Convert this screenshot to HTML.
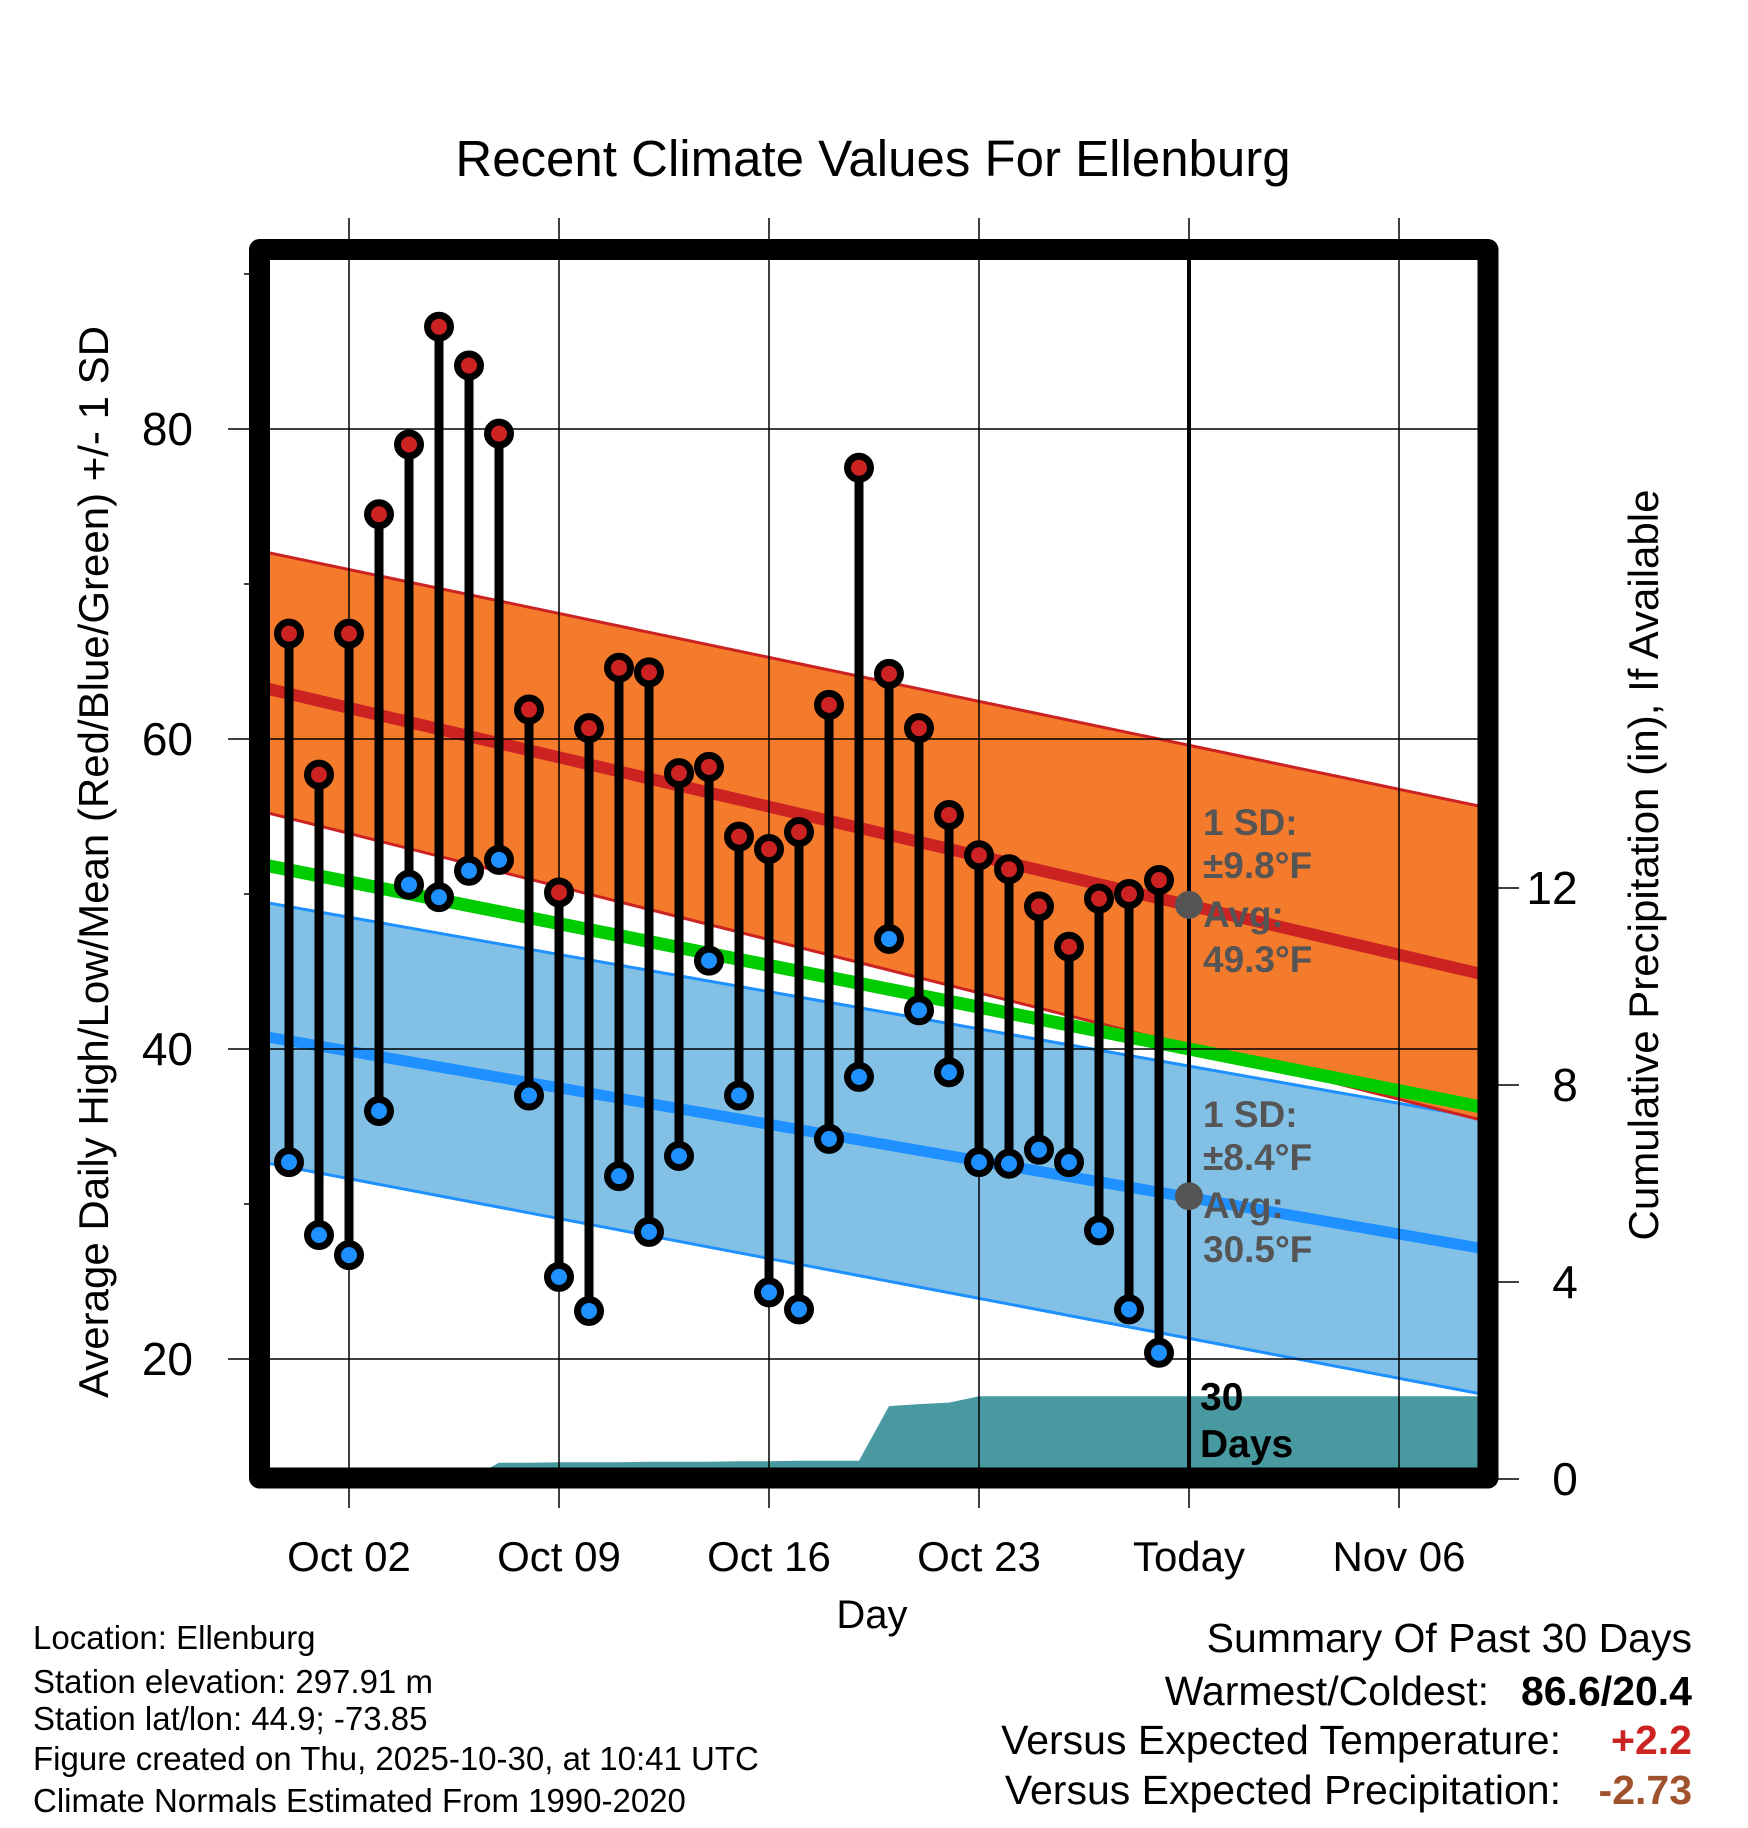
<!DOCTYPE html>
<html><head><meta charset="utf-8"><style>
html,body{margin:0;padding:0;background:#fff;}
svg{display:block;font-family:"Liberation Sans",Arial,sans-serif;}
</style></head><body>
<svg id="chart" width="1748" height="1828" viewBox="0 0 1748 1828" xmlns="http://www.w3.org/2000/svg">
<defs><clipPath id="plotclip"><rect x="270" y="260" width="1208" height="1208"/></clipPath></defs>
<text x="873" y="176" font-size="51" text-anchor="middle">Recent Climate Values For Ellenburg</text>
<g id="bands" clip-path="url(#plotclip)"></g>
<g id="grid"></g>
<g id="marks" clip-path="url(#plotclip)"></g>
<rect x="259.5" y="249.5" width="1228.5" height="1228.5" fill="none" stroke="#000" stroke-width="21" stroke-linejoin="round"/>
<g id="axes"></g>
<text transform="translate(108,862) rotate(-90)" font-size="42" text-anchor="middle">Average Daily High/Low/Mean (Red/Blue/Green) +/- 1 SD</text>
<text transform="translate(1658,865) rotate(-90)" font-size="42" text-anchor="middle">Cumulative Precipitation (in), If Available</text>
<text x="872" y="1628" font-size="40" text-anchor="middle">Day</text>
<g font-size="37" font-weight="bold" fill="#555">
<text x="1203" y="835">1 SD:</text><text x="1203" y="878">±9.8°F</text><text x="1203" y="927">Avg:</text><text x="1203" y="972">49.3°F</text></g>
<g font-size="37" font-weight="bold" fill="#555">
<text x="1203" y="1127">1 SD:</text><text x="1203" y="1170">±8.4°F</text><text x="1203" y="1218">Avg:</text><text x="1203" y="1262">30.5°F</text></g>
<g font-size="39" font-weight="bold" fill="#000">
<text x="1200" y="1410">30</text><text x="1200" y="1457">Days</text></g>
<g font-size="33" fill="#000">
<text x="33" y="1649">Location: Ellenburg</text>
<text x="33" y="1693">Station elevation: 297.91 m</text>
<text x="33" y="1730">Station lat/lon: 44.9; -73.85</text>
<text x="33" y="1770">Figure created on Thu, 2025-10-30, at 10:41 UTC</text>
<text x="33" y="1812">Climate Normals Estimated From 1990-2020</text></g>
<g font-size="41" text-anchor="end">
<text x="1692" y="1652">Summary Of Past 30 Days</text>
<text x="1489" y="1705">Warmest/Coldest:</text>
<text x="1692" y="1705" font-weight="bold">86.6/20.4</text>
<text x="1561" y="1754">Versus Expected Temperature:</text>
<text x="1692" y="1754" font-weight="bold" fill="#cc2222">+2.2</text>
<text x="1561" y="1804">Versus Expected Precipitation:</text>
<text x="1692" y="1804" font-weight="bold" fill="#a0522d">-2.73</text></g>
</svg>
<script>
// day index: 0 = Oct 0 (Sep 30 = 0, Oct 1 = 1 ...)
const days = [0,1,2,3,4,5,6,7,8,9,10,11,12,13,14,15,16,17,18,19,20,21,22,23,24,25,26,27,28,29];
const highs = [66.8,57.7,66.8,74.5,79.0,86.6,84.1,79.7,61.9,50.1,60.7,64.6,64.3,57.8,58.2,53.7,52.9,54.0,62.2,77.5,64.2,60.7,55.1,52.5,51.6,49.2,46.6,49.7,50.0,50.9];
const lows = [32.7,28.0,26.7,36.0,50.6,49.8,51.5,52.2,37.0,25.3,23.1,31.8,28.2,33.1,45.7,37.0,24.3,23.2,34.2,38.2,47.1,42.5,38.5,32.7,32.6,33.5,32.7,28.3,23.2,20.4];
const precip = [0,0,0,0,0,0,0,0.33,0.33,0.34,0.34,0.34,0.35,0.35,0.35,0.36,0.36,0.37,0.37,0.37,1.48,1.52,1.55,1.68,1.68,1.68,1.68,1.68,1.68,1.68];
const normDays = [-1,9,19,29,40];
const meanHigh = [63.37,58.82,54.27,49.72,44.72];
const upperHigh = [72.15,68.10,64.05,60.0,55.54];
const lowerHigh = [55.38,50.48,45.58,40.68,35.29];
const meanAvg = [51.94,48.09,44.24,40.39,36.16];
const meanLow = [40.87,37.5,34.13,30.76,27.05];
const upperLow = [49.53,46.1,42.67,39.24,35.47];
const lowerLow = [32.74,29.06,25.38,21.70,17.65];
const xTickDays = [2,9,16,23,30,37];
const xTickLabels = ["Oct 02","Oct 09","Oct 16","Oct 23","Today","Nov 06"];
const yTicks = [20,40,60,80];
const yMinor = [30,50,70,90];
const y2Ticks = [0,4,8,12];
const todayDay = 30;
const todayMeanHigh = 49.3, todayMeanLow = 30.5;

const NS="http://www.w3.org/2000/svg";
const xS = d => 349 + (d-2)*30;
const yS = t => 429 + (80-t)*15.5;
const y2S = p => 1479 - p*49.25;
function mk(parent, tag, attrs){const e=document.createElementNS(NS,tag);for(const k in attrs)e.setAttribute(k,attrs[k]);parent.appendChild(e);return e;}
const bands=document.getElementById('bands'), grid=document.getElementById('grid'), marks=document.getElementById('marks'), axes=document.getElementById('axes');
function linePts(arr){return normDays.map((d,i)=>xS(d)+','+yS(arr[i])).join(' ');}
function bandPts(up,lo){return normDays.map((d,i)=>xS(d)+','+yS(up[i])).concat(normDays.slice().reverse().map((d,j)=>{const i=normDays.length-1-j;return xS(d)+','+yS(lo[i]);})).join(' ');}

let e;
e=mk(bands,'polygon',{points:bandPts(upperLow,lowerLow),fill:'#82c0e6',stroke:'#1e90ff','stroke-width':3});


e=mk(bands,'polygon',{points:bandPts(upperHigh,lowerHigh),fill:'#f47a2c',stroke:'#cc2222','stroke-width':3});


e=mk(bands,'polyline',{points:linePts(meanAvg),fill:'none',stroke:'#00cc00','stroke-width':13});


e=mk(bands,'polyline',{points:linePts(meanHigh),fill:'none',stroke:'#cc2222','stroke-width':12});


e=mk(bands,'polyline',{points:linePts(meanLow),fill:'none',stroke:'#1e90ff','stroke-width':11});


// precip area
let pp=[xS(-1)+','+y2S(0)];
days.forEach((d,i)=>pp.push(xS(d)+','+y2S(precip[i])));
pp.push(xS(41)+','+y2S(precip[precip.length-1]));
pp.push(xS(41)+','+y2S(0));
e=mk(bands,'polygon',{points:pp.join(' '),fill:'#4899a0'});



// grid
xTickDays.forEach((d,i)=>{
  e=mk(grid,'line',{x1:xS(d),x2:xS(d),y1:218,y2:1508,stroke:'#000','stroke-width':1.5});
  
  
  e=mk(axes,'text',{x:xS(d),y:1571,'font-size':42,'text-anchor':'middle'});
  e.textContent=xTickLabels[i];
  
  
});
yTicks.forEach(t=>{
  e=mk(grid,'line',{x1:228,x2:1478,y1:yS(t),y2:yS(t),stroke:'#000','stroke-width':1.5});
  
  
  e=mk(axes,'text',{x:193,y:yS(t)+16,'font-size':46,'text-anchor':'end'});
  e.textContent=t;
  
  
});
yMinor.forEach(t=>{
  e=mk(axes,'line',{x1:244,x2:256,y1:yS(t),y2:yS(t),stroke:'#000','stroke-width':1.5});
  
  
});
y2Ticks.forEach(p=>{
  e=mk(axes,'line',{x1:1498,x2:1519,y1:y2S(p),y2:y2S(p),stroke:'#000','stroke-width':1.5});
  
  
  e=mk(axes,'text',{x:p<10?1565:1552,y:y2S(p)+16,'font-size':46,'text-anchor':'middle'});
  e.textContent=p;
  
  
});
e=mk(marks,'line',{x1:xS(todayDay),x2:xS(todayDay),y1:250,y2:1478,stroke:'#000','stroke-width':4});



// stems
days.forEach((d,i)=>{
  const x=xS(d);
  e=mk(marks,'line',{x1:x,x2:x,y1:yS(highs[i]),y2:yS(lows[i]),stroke:'#000','stroke-width':9});
  
  
  e=mk(marks,'circle',{cx:x,cy:yS(highs[i]),r:11.5,fill:'#cc2222',stroke:'#000','stroke-width':7});
  
  
  e=mk(marks,'circle',{cx:x,cy:yS(lows[i]),r:11.5,fill:'#1e90ff',stroke:'#000','stroke-width':7});
  
  
});
e=mk(marks,'circle',{cx:xS(todayDay),cy:yS(todayMeanHigh),r:14,fill:'#555'});


e=mk(marks,'circle',{cx:xS(todayDay),cy:yS(todayMeanLow),r:14,fill:'#555'});


</script>
</body></html>
